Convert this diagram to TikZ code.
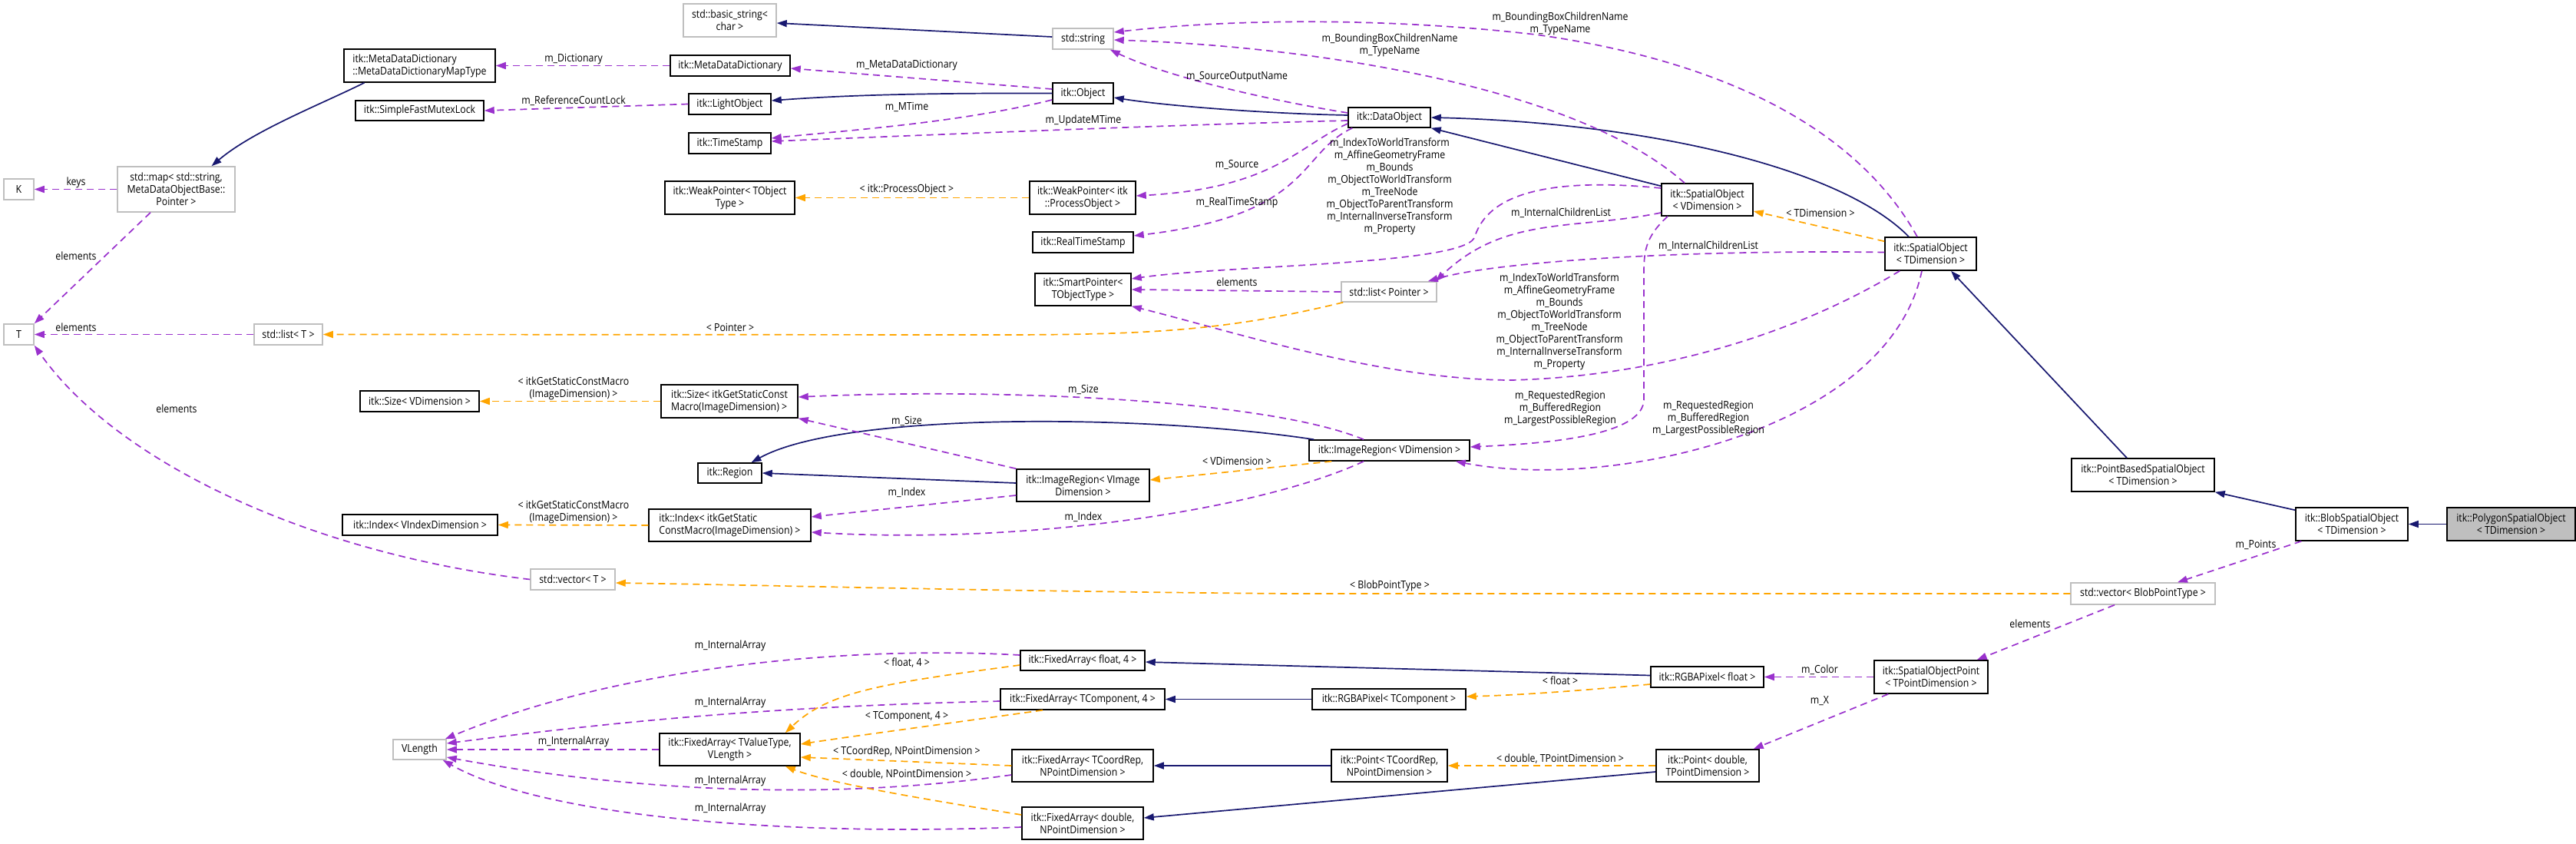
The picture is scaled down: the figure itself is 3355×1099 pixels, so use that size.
\documentclass[tikz,border=0pt]{standalone}
\usepackage{fontspec}
\setmainfont{Open Sans}[FakeStretch=0.88]
\usetikzlibrary{arrows.meta}
\definecolor{inhcol}{RGB}{25,25,112}
\definecolor{usecol}{RGB}{154,50,205}
\definecolor{tplcol}{RGB}{255,165,0}
\definecolor{extcol}{RGB}{191,191,191}

\begin{document}
\begin{tikzpicture}[x=1pt, y=-1pt,
    cls/.style={draw=black, line width=1.5pt, fill=white, inner sep=0pt, align=center, font=\fontsize{14}{16}\selectfont},
    ext/.style={cls, draw=extcol},
    lbl/.style={inner sep=0pt, align=center, font=\fontsize{14}{16}\selectfont},
    inhedge/.style={color=inhcol, line width=1.7pt, -{Triangle[length=13pt,width=9pt]}},
    useedge/.style={color=usecol, line width=1.7pt, dash pattern=on 9pt off 6pt, -{Triangle[length=13pt,width=9pt]}},
    tpledge/.style={useedge, color=tplcol}]
    \useasboundingbox (0,0) rectangle (3355,1099);

    % left columns
    \node[ext, minimum width=39pt, minimum height=27pt] (K) at (24.5,246.5) {K};
    \node[ext, minimum width=39pt, minimum height=27pt] (T) at (24.5,435.5) {T};
    \node[ext, minimum width=153pt, minimum height=59pt] (stdMap) at (229.5,246.5) {std::map< std::string,\\MetaDataObjectBase::\\Pointer >};
    \node[ext, minimum width=89pt, minimum height=27pt] (listT) at (375.5,435.5) {std::list< T >};
    \node[cls, minimum width=197pt, minimum height=43pt, align=left] (mapType) at (546.5,85.5) {itk::MetaDataDictionary\\::MetaDataDictionaryMapType};
    \node[cls, minimum width=167pt, minimum height=26pt] (mutexLock) at (546.5,144) {itk::SimpleFastMutexLock};
    \node[cls, minimum width=155pt, minimum height=27pt] (sizeV) at (546.5,522.5) {itk::Size< VDimension >};
    \node[cls, minimum width=202pt, minimum height=27pt] (indexV) at (547,683.5) {itk::Index< VIndexDimension >};
    \node[ext, minimum width=110pt, minimum height=27pt] (vectorT) at (746,754.5) {std::vector< T >};
    \node[ext, minimum width=69pt, minimum height=26pt] (vlength) at (546.5,976) {VLength};

    % middle column
    \node[ext, minimum width=121pt, minimum height=43pt] (basicString) at (950.5,26.5) {std::basic\_string<\\char >};
    \node[cls, minimum width=156pt, minimum height=27pt] (metaDict) at (951,85.5) {itk::MetaDataDictionary};
    \node[cls, minimum width=107pt, minimum height=27pt] (lightObject) at (950.5,135.5) {itk::LightObject};
    \node[cls, minimum width=107pt, minimum height=27pt] (timeStamp) at (950.5,186.5) {itk::TimeStamp};
    \node[cls, minimum width=169pt, minimum height=43pt] (weakPtrT) at (950.5,257.5) {itk::WeakPointer< TObject\\Type >};
    \node[cls, minimum width=178pt, minimum height=43pt, align=left] (sizeMacro) at (950,522.5) {itk::Size< itkGetStaticConst\\Macro(ImageDimension) >};
    \node[cls, minimum width=83pt, minimum height=26pt] (region) at (950.5,616) {itk::Region};
    \node[cls, minimum width=211pt, minimum height=42pt, align=left] (indexMacro) at (950.5,684) {itk::Index< itkGetStatic\\ConstMacro(ImageDimension) >};
    \node[cls, minimum width=183pt, minimum height=42pt] (faTValue) at (950.5,976) {itk::FixedArray< TValueType,\\VLength >};

    \node[ext, minimum width=79pt, minimum height=27pt] (stdString) at (1410.5,50.5) {std::string};
    \node[cls, minimum width=79pt, minimum height=27pt] (itkObject) at (1410.5,121.5) {itk::Object};
    \node[cls, minimum width=138pt, minimum height=43pt] (weakPtrPO) at (1410,257.5) {itk::WeakPointer< itk\\::ProcessObject >};
    \node[cls, minimum width=131pt, minimum height=27pt] (realTimeStamp) at (1410.5,315.5) {itk::RealTimeStamp};
    \node[cls, minimum width=125pt, minimum height=42pt] (smartPtr) at (1410.5,377) {itk::SmartPointer<\\TObjectType >};
    \node[cls, minimum width=173pt, minimum height=42pt] (imageRegionVI) at (1410.5,632) {itk::ImageRegion< VImage\\Dimension >};
    \node[cls, minimum width=162pt, minimum height=26pt] (faFloat) at (1410,860) {itk::FixedArray< float, 4 >};
    \node[cls, minimum width=214pt, minimum height=27pt] (faTComp) at (1410,910.5) {itk::FixedArray< TComponent, 4 >};
    \node[cls, minimum width=184pt, minimum height=42pt] (faTCoord) at (1410,997) {itk::FixedArray< TCoordRep,\\NPointDimension >};
    \node[cls, minimum width=158pt, minimum height=42pt] (faDouble) at (1410,1072) {itk::FixedArray< double,\\NPointDimension >};

    % right columns
    \node[cls, minimum width=107pt, minimum height=26pt] (dataObject) at (1809.5,153) {itk::DataObject};
    \node[ext, minimum width=124pt, minimum height=26pt] (listPointer) at (1809,380) {std::list< Pointer >};
    \node[cls, minimum width=209pt, minimum height=27pt] (imageRegionV) at (1809.5,586.5) {itk::ImageRegion< VDimension >};
    \node[cls, minimum width=200pt, minimum height=27pt] (rgbaTComp) at (1809,910.5) {itk::RGBAPixel< TComponent >};
    \node[cls, minimum width=151pt, minimum height=42pt] (pointTCoord) at (1809.5,997) {itk::Point< TCoordRep,\\NPointDimension >};
    \node[cls, minimum width=119pt, minimum height=42pt] (spatialV) at (2223.5,260) {itk::SpatialObject\\< VDimension >};
    \node[cls, minimum width=147pt, minimum height=27pt] (rgbaFloat) at (2223.5,881.5) {itk::RGBAPixel< float >};
    \node[cls, minimum width=134pt, minimum height=42pt] (pointDouble) at (2224,997) {itk::Point< double,\\TPointDimension >};
    \node[cls, minimum width=119pt, minimum height=43pt] (spatialT) at (2514.5,330.5) {itk::SpatialObject\\< TDimension >};
    \node[cls, minimum width=148pt, minimum height=43pt] (spatialPoint) at (2515,881.5) {itk::SpatialObjectPoint\\< TPointDimension >};
    \node[cls, minimum width=186pt, minimum height=43pt] (pointBased) at (2791,618.5) {itk::PointBasedSpatialObject\\< TDimension >};
    \node[ext, minimum width=188pt, minimum height=28pt] (vectorBlob) at (2791,773) {std::vector< BlobPointType >};
    \node[cls, minimum width=146pt, minimum height=43pt] (blob) at (3063,682.5) {itk::BlobSpatialObject\\< TDimension >};
    \node[cls, fill=extcol, minimum width=167pt, minimum height=43pt] (polygon) at (3270.5,682.5) {itk::PolygonSpatialObject\\< TDimension >};

    % inheritance
    \draw[inhedge] ([yshift=2.5pt]stdString.west) -- ([yshift=-3.5pt]basicString.east);
    \draw[inhedge] ([xshift=-72pt]mapType.south) .. controls (420,135) and (330,170) .. ([xshift=46pt]stdMap.north);
    \draw[inhedge] (itkObject.west) .. controls (1200,121) and (1100,124) .. ([yshift=4.5pt]lightObject.east);
    \draw[inhedge] ([yshift=3pt]dataObject.west) .. controls (1650,148) and (1520,138) .. ([yshift=-5.5pt]itkObject.east);
    \draw[inhedge] ([yshift=-4pt]spatialV.north west) -- (dataObject.south east);
    \draw[inhedge] ([xshift=-28.5pt]spatialT.north) .. controls (2400,220) and (2150,160) .. (dataObject.east);
    \draw[inhedge] ([xshift=-21pt]pointBased.north) -- ([xshift=26.5pt]spatialT.south);
    \draw[inhedge] ([yshift=-4pt]blob.north west) -- (pointBased.south east);
    \draw[inhedge] (polygon.west) -- (blob.east);
    \draw[inhedge] ([yshift=3pt]imageRegionVI.west) -- (region.east);
    \draw[inhedge] ([xshift=7pt]imageRegionV.north west) .. controls (1500,540) and (1100,535) .. ([xshift=28pt]region.north);
    \draw[inhedge] ([yshift=2pt]rgbaFloat.west) -- ([yshift=-2pt]faFloat.east);
    \draw[inhedge] (rgbaTComp.west) -- (faTComp.east);
    \draw[inhedge] (pointTCoord.west) -- (faTCoord.east);
    \draw[inhedge] ([yshift=-8pt]pointDouble.west) -- ([yshift=7pt]faDouble.east);

    % members
    \draw[useedge] (metaDict.west) -- (mapType.east);
    \draw[useedge] (lightObject.west) -- (mutexLock.east);
    \draw[useedge] ([yshift=5.5pt]itkObject.west) -- ([yshift=-3.5pt]metaDict.east);
    \draw[useedge] ([yshift=-8.5pt]itkObject.west) .. controls (1250,160) and (1100,170) .. ([yshift=6.5pt]timeStamp.east);
    \draw[useedge] ([yshift=-4pt]dataObject.west) .. controls (1550,162) and (1300,172) .. ([yshift=2.5pt]timeStamp.east);
    \draw[useedge] ([yshift=6pt]dataObject.west) .. controls (1650,130) and (1520,100) .. ([xshift=-5pt]stdString.south east);
    \draw[useedge] ([xshift=-29.5pt]spatialV.north) .. controls (2050,110) and (1700,60) .. ([yshift=-1.5pt]stdString.east);
    \draw[useedge] ([xshift=-17.5pt]spatialT.north) .. controls (2420,170) and (2250,80) .. (2000,45) .. controls (1800,22) and (1600,25) .. ([yshift=8.5pt]stdString.east);
    \draw[useedge] ([yshift=-8pt]dataObject.west) .. controls (1690,190) and (1660,245) .. ([yshift=2.5pt]weakPtrPO.east);
    \draw[useedge] ([xshift=6pt]dataObject.south west) .. controls (1690,200) and (1710,280) .. ([yshift=8.5pt]realTimeStamp.east);
    \draw[useedge] ([yshift=15pt]spatialV.west) .. controls (1960,225) and (1930,280) .. (1920,310) .. controls (1900,345) and (1600,345) .. ([yshift=14pt]smartPtr.east);
    \draw[useedge] ([yshift=-17pt]spatialV.west) .. controls (2050,300) and (1960,280) .. ([xshift=-2pt]listPointer.north east);
    \draw[useedge] ([yshift=2pt]spatialT.west) .. controls (2200,325) and (1950,340) .. ([xshift=-12pt]listPointer.north east);
    \draw[useedge] (listPointer.west) -- (smartPtr.east);
    \draw[useedge] ([xshift=20pt]spatialT.south west) .. controls (2330,440) and (2150,490) .. (1969,495) .. controls (1800,495) and (1600,430) .. (smartPtr.south east);
    \draw[useedge] ([xshift=-51.5pt]spatialV.south) .. controls (2141,310) and (2141,330) .. (2141,360) -- (2141,520) .. controls (2141,570) and (2000,578) .. ([yshift=4.5pt]imageRegionV.east);
    \draw[useedge] ([xshift=-11.5pt]spatialT.south) .. controls (2460,560) and (2100,640) .. ([xshift=-19pt]imageRegionV.south east);
    \draw[useedge] ([xshift=-33.5pt]imageRegionV.north) .. controls (1650,520) and (1300,505) .. ([yshift=5.5pt]sizeMacro.east);
    \draw[useedge] (imageRegionVI.north west) -- (sizeMacro.south east);
    \draw[useedge] ([yshift=-13pt]imageRegionVI.west) -- ([yshift=11pt]indexMacro.east);
    \draw[useedge] ([xshift=-33.5pt]imageRegionV.south) .. controls (1650,660) and (1350,710) .. ([yshift=-9pt]indexMacro.east);
    \draw[useedge] (stdMap.west) -- (K.east);
    \draw[useedge] ([xshift=-33.5pt]stdMap.south) -- (T.north east);
    \draw[useedge] (listT.west) -- (T.east);
    \draw[useedge] (vectorT.west) .. controls (400,720) and (150,600) .. (T.south east);
    \draw[useedge] ([xshift=8pt]blob.south west) -- ([xshift=45pt]vectorBlob.north);
    \draw[useedge] ([xshift=-37pt]vectorBlob.south) -- ([xshift=-15pt]spatialPoint.north east);
    \draw[useedge] (spatialPoint.west) -- (rgbaFloat.east);
    \draw[useedge] ([xshift=19pt]spatialPoint.south west) -- ([xshift=-8pt]pointDouble.north east);
    \draw[useedge] ([yshift=7pt]faFloat.west) .. controls (1100,840) and (800,870) .. ([xshift=-2pt]vlength.north east);
    \draw[useedge] ([yshift=-2.5pt]faTComp.west) .. controls (1000,920) and (800,940) .. ([yshift=8pt]vlength.east);
    \draw[useedge] (faTValue.west) -- (vlength.east);
    \draw[useedge] ([yshift=-12pt]faTCoord.west) .. controls (1100,1040) and (850,1035) .. ([yshift=-10pt]vlength.east);
    \draw[useedge] ([yshift=-5pt]faDouble.west) .. controls (1000,1090) and (700,1060) .. ([xshift=-5pt]vlength.south east);

    % template instances
    \draw[tpledge] (weakPtrPO.west) -- (weakPtrT.east);
    \draw[tpledge] ([xshift=3pt]listPointer.south west) .. controls (1600,430) and (1500,436) .. (1300,436) -- (listT.east);
    \draw[tpledge] (sizeMacro.west) -- (sizeV.east);
    \draw[tpledge] (indexMacro.west) -- (indexV.east);
    \draw[tpledge] ([xshift=30pt]imageRegionV.south west) -- ([yshift=7pt]imageRegionVI.east);
    \draw[tpledge] ([yshift=-6pt]spatialT.north west) -- ([yshift=-15pt]spatialV.east);
    \draw[tpledge] (vectorBlob.west) -- (1680,773) .. controls (1300,770) and (1000,762) .. ([yshift=-4.5pt]vectorT.east);
    \draw[tpledge] ([yshift=-6pt]faFloat.west) .. controls (1150,890) and (1080,900) .. ([xshift=-20pt]faTValue.north east);
    \draw[tpledge] ([xshift=-52pt]faTComp.south) .. controls (1250,940) and (1100,960) .. ([yshift=7pt]faTValue.east);
    \draw[tpledge] (faTCoord.west) -- ([yshift=-10pt]faTValue.east);
    \draw[tpledge] ([yshift=11pt]faDouble.west) .. controls (1200,1040) and (1080,1020) .. ([xshift=-20pt]faTValue.south east);
    \draw[tpledge] ([yshift=-9.5pt]rgbaFloat.west) .. controls (2050,900) and (1980,905) .. ([yshift=3.5pt]rgbaTComp.east);
    \draw[tpledge] (pointDouble.west) -- (pointTCoord.east);

    % labels
    \node[lbl] (lKeys) at (99,238) {keys};
    \node[lbl] (lElemMap) at (99,333) {elements};
    \node[lbl] (lElemList) at (99,426) {elements};
    \node[lbl] (lElemVec) at (230,532) {elements};
    \node[lbl] (lDict) at (747,77) {m\_Dictionary};
    \node[lbl] (lLock) at (747,131) {m\_ReferenceCountLock};
    \node[lbl] (lMacroS) at (747,506) {< itkGetStaticConstMacro\\(ImageDimension) >};
    \node[lbl] (lMacroI) at (747,667) {< itkGetStaticConstMacro\\(ImageDimension) >};
    \node[lbl] (lIA3) at (747,966) {m\_InternalArray};
    \node[lbl] (lPointer) at (951,426) {< Pointer >};
    \node[lbl] (lIA1) at (951,841) {m\_InternalArray};
    \node[lbl] (lIA2) at (951,915) {m\_InternalArray};
    \node[lbl] (lIA4) at (951,1017) {m\_InternalArray};
    \node[lbl] (lIA5) at (951,1053) {m\_InternalArray};
    \node[lbl] (lMeta) at (1181,85) {m\_MetaDataDictionary};
    \node[lbl] (lMTime) at (1181,139) {m\_MTime};
    \node[lbl] (lPO) at (1181,247) {< itk::ProcessObject >};
    \node[lbl] (lSizeVI) at (1181,548) {m\_Size};
    \node[lbl] (lIndexVI) at (1181,641) {m\_Index};
    \node[lbl] (lF4) at (1181,863) {< float, 4 >};
    \node[lbl] (lTC4) at (1181,933) {< TComponent, 4 >};
    \node[lbl] (lTCR) at (1181,979) {< TCoordRep, NPointDimension >};
    \node[lbl] (lDNP) at (1181,1008) {< double, NPointDimension >};
    \node[lbl] (lUpdate) at (1411,157) {m\_UpdateMTime};
    \node[lbl] (lSizeV) at (1411,507) {m\_Size};
    \node[lbl] (lIndexV) at (1411,673) {m\_Index};
    \node[lbl] (lSrcOut) at (1611,100) {m\_SourceOutputName};
    \node[lbl] (lSource) at (1611,215) {m\_Source};
    \node[lbl] (lRTS) at (1611,264) {m\_RealTimeStamp};
    \node[lbl] (lElemSP) at (1611,367) {elements};
    \node[lbl] (lVDim) at (1611,600) {< VDimension >};
    \node[lbl] (lBBoxV) at (1810,59) {m\_BoundingBoxChildrenName\\m\_TypeName};
    \node[lbl] (lXfmV) at (1810,243) {m\_IndexToWorldTransform\\m\_AffineGeometryFrame\\m\_Bounds\\m\_ObjectToWorldTransform\\m\_TreeNode\\m\_ObjectToParentTransform\\m\_InternalInverseTransform\\m\_Property};
    \node[lbl] (lBlobPT) at (1810,763) {< BlobPointType >};
    \node[lbl] (lBBoxT) at (2032,31) {m\_BoundingBoxChildrenName\\m\_TypeName};
    \node[lbl] (lChildV) at (2033,277) {m\_InternalChildrenList};
    \node[lbl] (lXfmT) at (2031,419) {m\_IndexToWorldTransform\\m\_AffineGeometryFrame\\m\_Bounds\\m\_ObjectToWorldTransform\\m\_TreeNode\\m\_ObjectToParentTransform\\m\_InternalInverseTransform\\m\_Property};
    \node[lbl] (lRegV) at (2032,532) {m\_RequestedRegion\\m\_BufferedRegion\\m\_LargestPossibleRegion};
    \node[lbl] (lFloat) at (2032,886) {< float >};
    \node[lbl] (lDblTP) at (2032,988) {< double, TPointDimension >};
    \node[lbl] (lChildT) at (2225,320) {m\_InternalChildrenList};
    \node[lbl] (lRegT) at (2225,545) {m\_RequestedRegion\\m\_BufferedRegion\\m\_LargestPossibleRegion};
    \node[lbl] (lTDim) at (2371,277) {< TDimension >};
    \node[lbl] (lColor) at (2370,872) {m\_Color};
    \node[lbl] (lX) at (2370,913) {m\_X};
    \node[lbl] (lElemBlob) at (2644,812) {elements};
    \node[lbl] (lPoints) at (2938,709) {m\_Points};
\end{tikzpicture}
\end{document}
